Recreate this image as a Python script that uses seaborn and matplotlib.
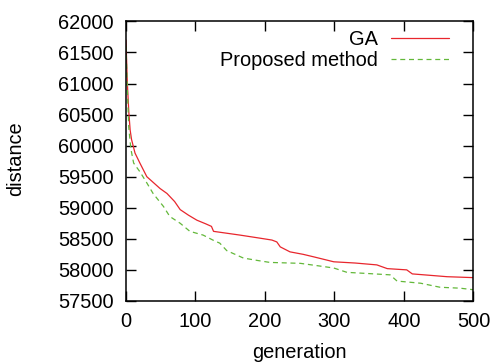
import numpy as np
import pandas as pd
import matplotlib
matplotlib.use("Agg")
import matplotlib.pyplot as plt
import seaborn as sns

# values
ga_gen = [0, 2, 4, 6, 8, 13, 20, 30, 40, 49, 59, 70, 78, 90, 102, 115, 123, 126,
          145, 164, 193, 210, 217, 222, 236, 255, 270, 299, 330, 361, 376, 404,
          412, 440, 462, 500]
ga_dist = [61700, 61000, 60550, 60250, 60100, 59880, 59720, 59500, 59400, 59310,
           59230, 59100, 58970, 58880, 58800, 58740, 58700, 58620, 58590, 58560,
           58510, 58480, 58450, 58370, 58290, 58250, 58210, 58130, 58110, 58080,
           58020, 58000, 57935, 57910, 57890, 57875]

pm_gen = [0, 2, 4, 7, 11, 20, 30, 39, 54, 63, 78, 92, 111, 125, 135, 145, 169,
          190, 207, 251, 280, 299, 318, 350, 380, 390, 424, 452, 481, 500]
pm_dist = [61600, 60900, 60300, 59950, 59720, 59580, 59400, 59230, 59020, 58860,
           58750, 58620, 58560, 58480, 58430, 58310, 58190, 58150, 58120, 58105,
           58060, 58030, 57960, 57940, 57920, 57820, 57785, 57720, 57705, 57680]

x_ticks = [0, 100, 200, 300, 400, 500]
y_ticks = list(range(57500, 62001, 500))

FS = 14.4

sns.set_theme(style="ticks")
plt.rcParams["font.family"] = ["Liberation Sans", "DejaVu Sans"]
plt.rcParams["font.size"] = FS
plt.rcParams["text.color"] = "black"
plt.rcParams["axes.labelcolor"] = "black"

fig = plt.figure(figsize=(4.95, 3.63), dpi=100)
ax = fig.add_axes([0.2545, 0.171, 0.702, 0.770])

ga = pd.DataFrame({"generation": ga_gen, "distance": ga_dist})
pm = pd.DataFrame({"generation": pm_gen, "distance": pm_dist})

sns.lineplot(data=ga, x="generation", y="distance", ax=ax, color="#e8262d",
             lw=0.9, label="GA")
sns.lineplot(data=pm, x="generation", y="distance", ax=ax, color="#63b83a",
             lw=0.9, linestyle=(0, (4, 3)), label="Proposed method")

ax.set_xlim(0, 500)
ax.set_ylim(57500, 62000)
ax.set_xticks(x_ticks)
ax.set_yticks(y_ticks)
ax.tick_params(direction="in", length=7, width=1, top=True, right=True,
               labelsize=FS, colors="black")
ax.tick_params(axis="x", pad=8)
ax.tick_params(axis="y", pad=9)
for s in ax.spines.values():
    s.set_linewidth(1.1)
    s.set_color("black")

ax.set_xlabel("generation", fontsize=FS)
ax.set_ylabel("distance", fontsize=FS)
ax.xaxis.set_label_coords(0.5, -0.152)
ax.yaxis.set_label_coords(-0.29, 0.51)

leg = ax.legend(loc="upper right", bbox_to_anchor=(0.947, 0.99), frameon=False,
                markerfirst=False, handlelength=2.9, fontsize=FS,
                borderaxespad=0.0, borderpad=0.3, labelspacing=0.1,
                handletextpad=0.65)
for t in leg.get_texts():
    t.set_color("black")

fig.savefig("out.png", dpi=100)
